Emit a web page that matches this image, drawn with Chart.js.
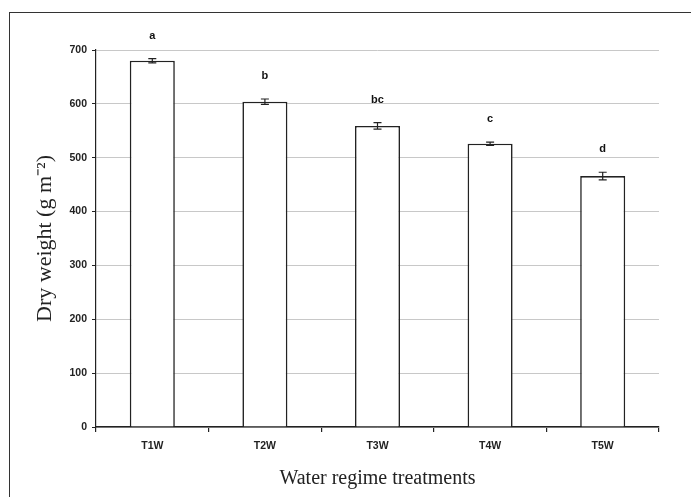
<!DOCTYPE html>
<html>
<head>
<meta charset="utf-8">
<script src="https://cdn.jsdelivr.net/npm/chart.js@4.4.1/dist/chart.umd.min.js"></script>
<style>
  html, body { margin: 0; padding: 0; background: #fff; }
  #wrap { position: relative; width: 691px; height: 497px; overflow: hidden; }
  #frame { position: absolute; left: 9px; top: 12px; width: 800px; height: 600px;
           border-left: 1.5px solid #333; border-top: 1.5px solid #333; }
  canvas { position: absolute; left: 0; top: 0; }
</style>
</head>
<body>
<div id="wrap">
  <div id="frame"></div>
  <canvas id="c" width="691" height="497"></canvas>
</div>
<script>
// ---------- data ----------
const treatments = ["T1W", "T2W", "T3W", "T4W", "T5W"];
const dryWeight = [680, 604, 559, 526, 466];
const stdErr = [4, 5, 6, 3, 7];
const groupLetters = ["a", "b", "bc", "c", "d"];
const yTicks = [0, 100, 200, 300, 400, 500, 600, 700];

const tickFont = { family: "Liberation Sans, Arial, sans-serif", size: 10.5, weight: "bold" };

// ---------- error bars + letters ----------
const errorBars = {
  id: "errorBars",
  afterDatasetsDraw(chart) {
    const ctx = chart.ctx;
    const y = chart.scales.y;
    const meta = chart.getDatasetMeta(0);
    ctx.save();
    ctx.strokeStyle = "#222";
    ctx.lineWidth = 1.2;
    meta.data.forEach((bar, i) => {
      const x = bar.x;
      const hi = y.getPixelForValue(dryWeight[i] + stdErr[i]);
      const lo = y.getPixelForValue(dryWeight[i] - stdErr[i]);
      ctx.beginPath();
      ctx.moveTo(x, hi); ctx.lineTo(x, lo);
      ctx.moveTo(x - 4, hi); ctx.lineTo(x + 4, hi);
      ctx.moveTo(x - 4, lo); ctx.lineTo(x + 4, lo);
      ctx.stroke();

      ctx.fillStyle = "#111";
      ctx.font = "bold 11px Liberation Sans, Arial, sans-serif";
      ctx.textAlign = "center";
      ctx.textBaseline = "middle";
      ctx.fillText(groupLetters[i], x, hi - 23);
    });
    ctx.restore();
  },
};

new Chart(document.getElementById("c"), {
  type: "bar",
  data: {
    labels: treatments,
    datasets: [{
      data: dryWeight,
      backgroundColor: "#fff",
      borderColor: "#222",
      borderWidth: 1.6,
      categoryPercentage: 1,
      barPercentage: 0.4,
    }],
  },
  options: {
    responsive: false,
    animation: false,
    layout: { padding: { left: 0, right: 32, top: 50, bottom: 0 } },
    plugins: { legend: { display: false }, tooltip: { enabled: false } },
    scales: {
      x: {
        afterFit: (s) => { s.height = 70; },
        grid: { offset: true, drawOnChartArea: false, tickLength: 5, tickColor: "#222", lineWidth: 1.2 },
        border: { color: "#222", width: 1.5 },
        ticks: { color: "#222", font: tickFont, padding: 8 },
        title: {
          display: true,
          text: "Water regime treatments",
          color: "#222",
          font: { family: "Liberation Serif, Times New Roman, serif", size: 20 },
          padding: { top: 0, bottom: 6 },
        },
      },
      y: {
        min: 0,
        max: 700,
        afterFit: (s) => { s.width = 96; },
        afterBuildTicks: (s) => { s.ticks = yTicks.map((v) => ({ value: v })); },
        grid: { color: "#c8c8c8", lineWidth: 1, tickLength: 4, tickColor: "#222" },
        border: { color: "#222", width: 1.2 },
        ticks: { color: "#222", font: tickFont, padding: 5 },
        title: {
          display: true,
          text: "Dry weight (g m\u207B\u00B2)",
          color: "#222",
          font: { family: "Liberation Serif, Times New Roman, serif", size: 22 },
          padding: { top: 32, bottom: 32 },
        },
      },
    },
  },
  plugins: [errorBars],
});
</script>
</body>
</html>
